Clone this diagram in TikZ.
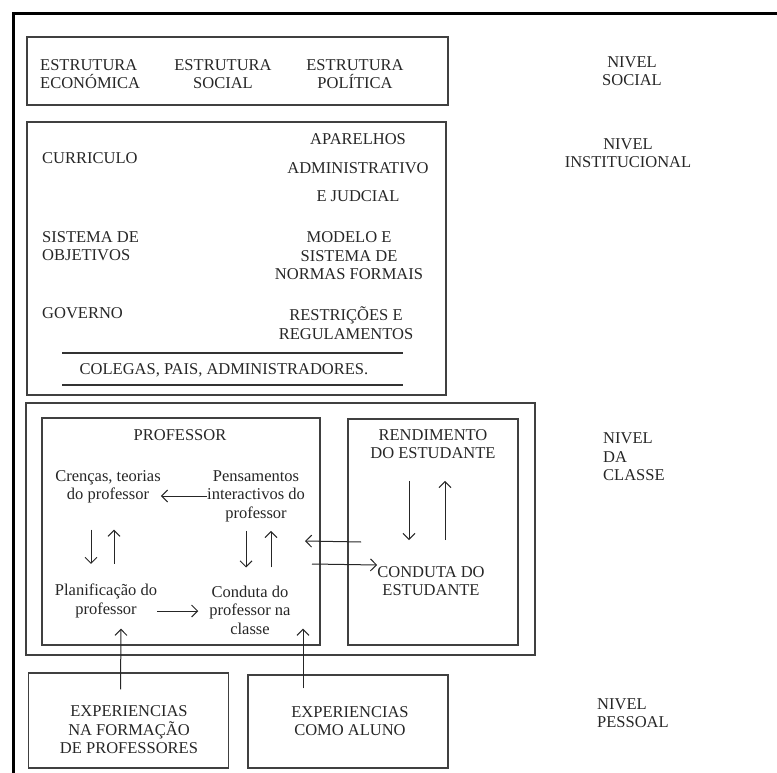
\documentclass[tikz,border=0pt]{standalone}
\usepackage{fontspec}
\setmainfont{Liberation Serif}
\usetikzlibrary{arrows.meta}

\begin{document}
\begin{tikzpicture}[
    x=1pt, y=-1pt,
    every node/.style={font=\fontsize{16.5}{18.5}\selectfont, text=black!85, inner sep=0pt},
    lvlbox/.style={draw=black!75, line width=1.4pt},
    txt/.style={align=center},
    arr/.style={->, line width=1pt, draw=black!85},
    >={Straight Barb[length=6pt,width=12pt]}
]
\useasboundingbox (0,0) rectangle (777,773);

% --- Outer frame ---
\draw[line width=3pt] (13,773) -- (13,14) -- (777,14);

% --- Nivel social ---
\node[lvlbox, minimum width=421pt, minimum height=68pt] (socialbox) at (237.5,71) {};
\node[align=left, anchor=west] (econ) at (40,74) {ESTRUTURA\\ECONÓMICA};
\node[txt] (soc) at (223,74) {ESTRUTURA\\SOCIAL};
\node[txt] (pol) at (355,74) {ESTRUTURA\\POLÍTICA};
\node[txt] (nsocial) at (632,71) {NIVEL\\SOCIAL};

% --- Nivel institucional ---
\node[lvlbox, minimum width=419pt, minimum height=273pt] (instbox) at (236.5,258.5) {};
\node[anchor=west] (curric) at (42,158) {CURRICULO};
\node[align=left, anchor=west] (sisobj) at (42,246) {SISTEMA DE\\OBJETIVOS};
\node[anchor=west] (gov) at (42,313) {GOVERNO};
\node[txt] (apar) at (358,168) {APARELHOS\\[10pt]ADMINISTRATIVO\\[10pt]E JUDCIAL};
\node[txt] (modelo) at (349,256) {MODELO E\\SISTEMA DE\\NORMAS FORMAIS};
\node[txt] (restr) at (346,323) {RESTRIÇÕES E\\REGULAMENTOS};
\draw[line width=1.3pt, black!80] (62,353) -- (403,353);
\node (colegas) at (224,370) {COLEGAS, PAIS, ADMINISTRADORES.};
\draw[line width=1.3pt, black!80] (62,385) -- (403,385);
\node[txt] (ninst) at (628,153) {NIVEL\\INSTITUCIONAL};

% --- Nivel da classe ---
\node[lvlbox, minimum width=509pt, minimum height=252pt] (classebox) at (280.5,529) {};
\node[lvlbox, minimum width=278pt, minimum height=227pt] (prof) at (181,531.5) {};
\node[lvlbox, minimum width=170pt, minimum height=226pt] (est) at (433,532) {};
\node (proftit) at (180,435) {PROFESSOR};
\node[txt] (cren) at (108,487) {Crenças, teorias\\do professor};
\node[txt] (pens) at (256,496) {Pensamentos\\interactivos do\\professor};
\node[txt] (plan) at (106,601) {Planificação do\\professor};
\node[txt] (cond) at (250,610) {Conduta do\\professor na\\classe};
\node[txt] (rend) at (433,444) {RENDIMENTO\\DO ESTUDANTE};
\node[txt] (condest) at (431,581) {CONDUTA DO\\ESTUDANTE};
\node[align=left, anchor=west] (nclasse) at (603,457) {NIVEL\\DA\\CLASSE};

\draw[arr] (pens.west) -- (pens.west -| cren.east);
\draw[arr, shorten <=26pt, shorten >=20pt] ([xshift=-17pt]cren.south) -- ([xshift=-17pt]cren.south |- plan.north);
\draw[arr, shorten <=20pt, shorten >=26pt] ([xshift=6pt]cren.south |- plan.north) -- ([xshift=6pt]cren.south);
\draw[arr, shorten <=9pt, shorten >=18pt] ([xshift=-10pt]pens.south) -- ([xshift=-10pt]pens.south |- cond.north);
\draw[arr, shorten <=18pt, shorten >=9pt] ([xshift=15pt]pens.south |- cond.north) -- ([xshift=15pt]pens.south);
\draw[arr, shorten >=11pt] ([yshift=-10pt]plan.east) -- ([yshift=-10pt]plan.east -| cond.west);
\draw[arr, shorten <=22pt, shorten >=26pt] ([xshift=-22pt]condest.north |- rend.south) -- ([xshift=-22pt]condest.north);
\draw[arr, shorten <=26pt, shorten >=22pt] ([xshift=14pt]condest.north) -- ([xshift=14pt]condest.north |- rend.south);
\draw[arr] ([xshift=-16pt,yshift=39pt]condest.west) -- ([yshift=-45pt]pens.east);
\draw[arr] ([xshift=7pt,yshift=-68pt]pens.east) -- ([yshift=16pt]condest.west);

% --- Nivel pessoal ---
\node[lvlbox, minimum width=200pt, minimum height=95pt] (exp1box) at (128.5,720.5) {};
\node[lvlbox, minimum width=200pt, minimum height=93pt] (exp2box) at (348,721.5) {};
\node[txt] (exp1) at (129,730) {EXPERIENCIAS\\NA FORMAÇÃO\\DE PROFESSORES};
\node[txt] (exp2) at (350,721) {EXPERIENCIAS\\COMO ALUNO};
\node[align=left, anchor=west] (npess) at (597,713) {NIVEL\\PESSOAL};
\draw[arr] ([xshift=-8pt,yshift=-17pt]exp1box.north) -- ([xshift=-60pt,yshift=17pt]prof.south);
\draw[arr] ([xshift=-45pt,yshift=-14pt]exp2box.north) -- ([xshift=122pt,yshift=17pt]prof.south);

\end{tikzpicture}
\end{document}
